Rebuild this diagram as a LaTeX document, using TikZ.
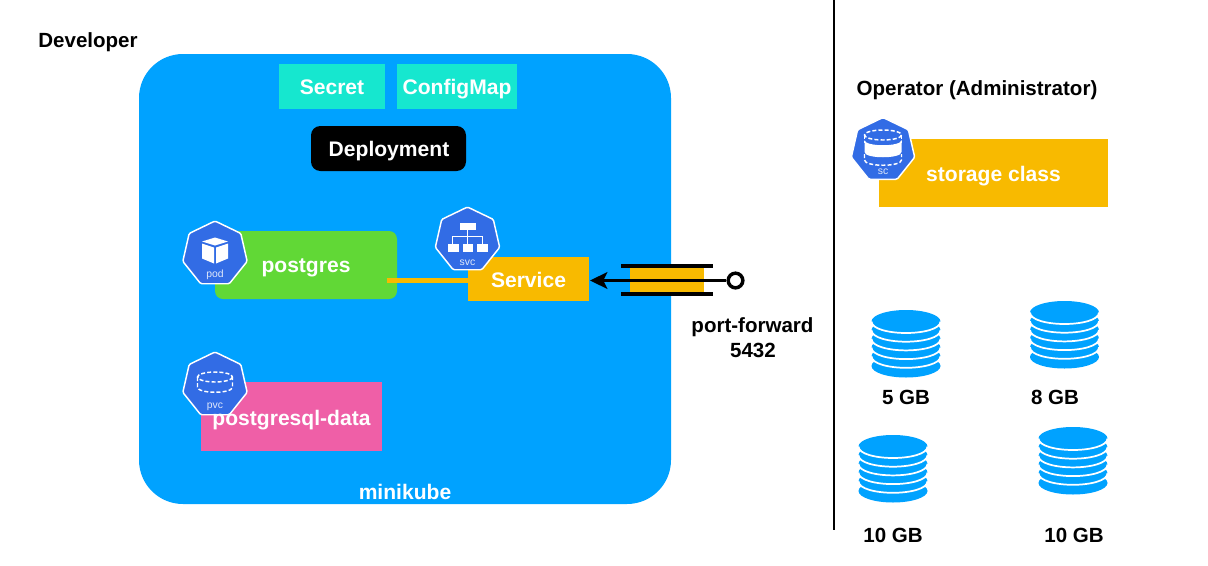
\documentclass[tikz,border=0pt]{standalone}
\usepackage{fontspec}
\setmainfont{Liberation Sans}
\usetikzlibrary{arrows.meta}
\definecolor{mkblue}{HTML}{00A2FF}
\definecolor{teal1}{HTML}{16E7CF}
\definecolor{green1}{HTML}{61D836}
\definecolor{orange1}{HTML}{F8BA00}
\definecolor{pink1}{HTML}{EF5FA7}
\definecolor{k8s}{HTML}{326CE5}
\newcommand{\heptagon}[3]{%
  \fill[k8s,draw=white,line width=1.1pt,rounded corners=1pt,shift={(#1,#2)}]
    (270:#3) -- (321.43:#3) -- (372.86:#3) -- (424.29:#3) -- (475.71:#3) -- (527.14:#3) -- (578.57:#3) -- cycle;}
% one ellipse of a disk stack, centred on (#1,#2)
\newcommand{\disklayer}[2]{%
  \fill[mkblue,draw=none] (#1,#2) ellipse[x radius=34.5,y radius=11.5];
  \draw[white,line width=1.3pt] (#1-34.5,#2) .. controls (#1-34.5,#2+7.5) and (#1-17,#2+11.5) .. (#1,#2+11.5) .. controls (#1+17,#2+11.5) and (#1+34.5,#2+7.5) .. (#1+34.5,#2);}
\newcommand{\diskbase}[2]{%
  \fill[mkblue,draw=none] (#1,#2) ellipse[x radius=34.5,y radius=11.5];}
\newcommand{\diskstack}[2]{%
  \diskbase{#1}{#2+56}
  \disklayer{#1}{#2+46.3}
  \disklayer{#1}{#2+37.6}
  \disklayer{#1}{#2+28.9}
  \disklayer{#1}{#2+20.2}
  \disklayer{#1}{#2+11.5}}
\tikzset{
  x=0.75pt,y=-0.75pt,
  dashw/.style={white,line width=1.1pt,dash pattern=on 3pt off 1.6pt},
  wlabel/.style={inner sep=0pt,outer sep=0pt,font=\fontsize{15.8pt}{18pt}\selectfont\bfseries,text=white,anchor=center,text height=11.4pt,text depth=0pt},
  dlabel/.style={inner sep=0pt,outer sep=0pt,text=black,font=\fontsize{15.4pt}{19pt}\selectfont\bfseries,anchor=center,text height=11.1pt,text depth=0pt},
  small/.style={inner sep=0pt,outer sep=0pt,anchor=center,font=\fontsize{7.8pt}{9pt}\selectfont,text=white!85!k8s,text height=5.6pt,text depth=0pt},
}
\begin{document}
\begin{tikzpicture}
\useasboundingbox (0,0) rectangle (1208,565);
\fill[white] (0,0) rectangle (1208,565);
% big panel
\fill[mkblue,rounded corners=33pt] (139,54) rectangle (671,504);
\node[wlabel] (minikube) at (405,492) {minikube};
% boxes
\fill[teal1] (279,64) rectangle (385,109);
\node[wlabel] (secret) at (332,86.500) {Secret};
\fill[teal1] (397,64) rectangle (517,109);
\node[wlabel] (configmap) at (457,86.500) {ConfigMap};
\fill[black,rounded corners=7pt] (311,126) rectangle (466,171);
\node[wlabel] (deployment) at (389,148.500) {Deployment};
\fill[green1,rounded corners=6pt] (215,231) rectangle (397,299);
\node[wlabel] (postgres) at (306,265) {postgres};
\fill[pink1] (201,382) rectangle (382,451);
\coordinate (barstart) at (387,280.500);
\coordinate (barend) at (468,280.500);
\fill[orange1] (468,257) rectangle (589,301);
\draw[orange1,line width=3.9pt] (barstart) -- (barend);
\node[wlabel] (service) at (528.500,279.500) {Service};
% icons
\heptagon{215}{254}{33}
\begin{scope}[shift={(215,253.500)}]
\fill[white] (0,-16) -- (13,-12) -- (0,-8) -- (-13,-12) -- cycle;
\fill[white] (-13,-10) -- (-1,-6) -- (-1,10) -- (-13,5) -- cycle;
\fill[white] (13,-10) -- (1,-6) -- (1,10) -- (13,5) -- cycle;
\end{scope}
\node[small] (podlabel) at (215,274) {pod};
\heptagon{467.500}{240}{33}
\begin{scope}[shift={(467.500,240)}]
\fill[white] (-8,-17) rectangle (8,-10);
\fill[white] (-20,4) rectangle (-9,11.500);
\fill[white] (-5,4) rectangle (5,11.500);
\fill[white] (9,4) rectangle (20,11.500);
\draw[white,line width=0.9pt] (0,-10) -- (0,4) (-15,4) -- (-15,-3.300) -- (15,-3.300) -- (15,4);
\end{scope}
\node[small] (svclabel) at (467.500,262) {svc};
\heptagon{215}{385}{33}
\begin{scope}[shift={(215,385)}]
\draw[dashw] (0,-8) ellipse[x radius=17.5,y radius=5];
\draw[dashw] (-17.500,-8) -- (-17.500,2) .. controls (-17.500,9) and (17.500,9) .. (17.500,2) -- (17.500,-8);
\end{scope}
\node[small] (pvclabel) at (215,405) {pvc};
\node[wlabel] (pgdata) at (291.500,418) {postgresql-data};
% right side
\fill[orange1] (879,139) rectangle (1108,207);
\node[wlabel] (storage) at (993.500,174) {storage class};
\heptagon{883}{150}{32.500}
\begin{scope}[shift={(883,150)}]
\draw[dashw] (0,-15) ellipse[x radius=18.5,y radius=5];
\draw[dashw] (-18.500,-15) -- (-18.500,-7);
\draw[dashw] (18.500,-15) -- (18.500,-7);
\fill[white] (-18.500,-10) .. controls (-18.500,-3) and (18.500,-3) .. (18.500,-10) -- (18.500,2) .. controls (18.500,9) and (-18.500,9) .. (-18.500,2) -- cycle;
\draw[dashw] (-18.500,4) -- (-18.500,10) .. controls (-18.500,17) and (18.500,17) .. (18.500,10) -- (18.500,4);
\end{scope}
\node[small] (sclabel) at (883,171) {sc};
\node[dlabel] (developer) at (88,40) {Developer};
\node[dlabel] (operator) at (977,88) {Operator (Administrator)};
% divider
\coordinate (divtop) at (834,0);
\coordinate (divbot) at (834,530);
\draw[black,line width=1.1pt] (divtop) -- (divbot);
% port forward
\fill[orange1] (630,268) rectangle (704,292);
\coordinate (pftl) at (621,266); \coordinate (pftr) at (713,266);
\coordinate (pfbl) at (621,294); \coordinate (pfbr) at (713,294);
\draw[black,line width=2.4pt] (pftl) -- (pftr);
\draw[black,line width=2.4pt] (pfbl) -- (pfbr);
\node[circle,draw=black,fill=white,line width=2.6pt,minimum size=11pt,inner sep=0pt] (pfend) at (735.500,280.500) {};
\coordinate (svcedge) at (590,280.500);
\draw[black,line width=2.3pt,-{Stealth[length=13pt,width=12.500pt,inset=3pt]}] (pfend) -- (svcedge);
\node[dlabel] (pflabel) at (752.500,325) {port-forward};
\node[dlabel] (pfport) at (753,350) {5432};
% disks
\diskstack{906}{310}
\diskstack{1064.500}{301}
\diskstack{893}{435}
\diskstack{1073}{427}
\node[dlabel] (d1) at (906,397) {5 GB};
\node[dlabel] (d2) at (1055,397) {8 GB};
\node[dlabel] (d3) at (893,535.500) {10 GB};
\node[dlabel] (d4) at (1074,535.500) {10 GB};
\end{tikzpicture}
\end{document}
